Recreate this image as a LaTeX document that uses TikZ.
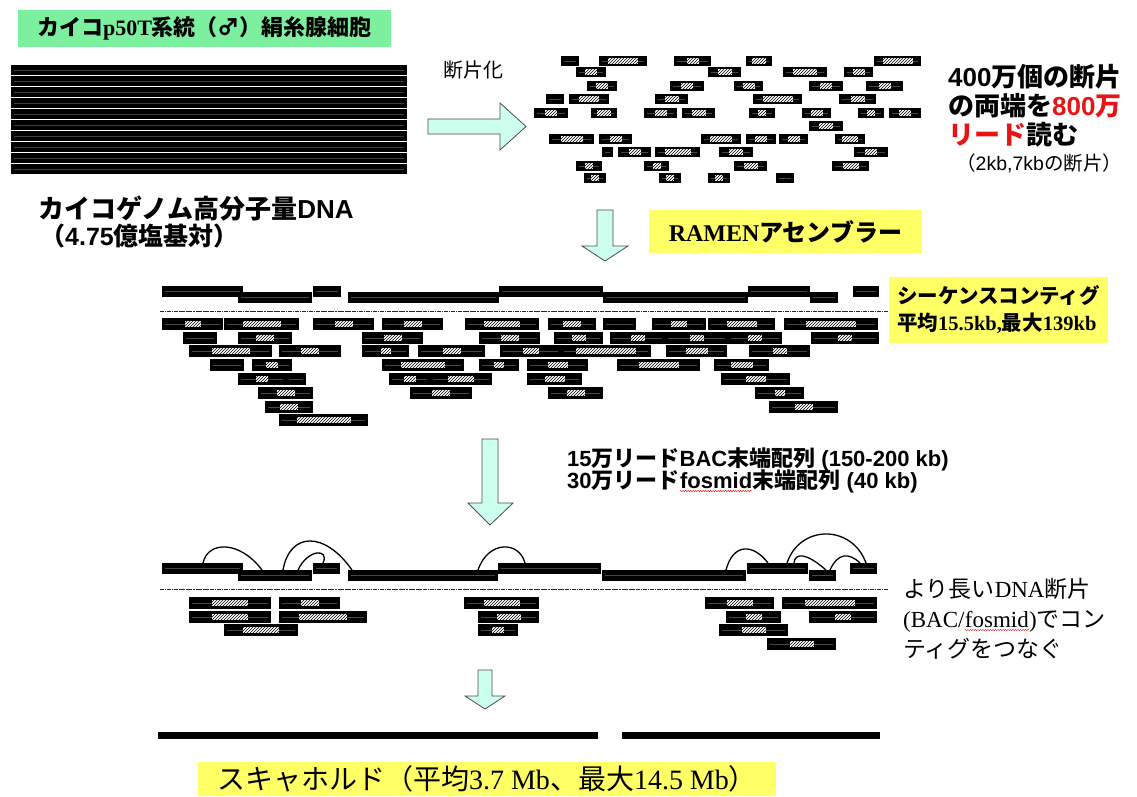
\documentclass[tikz,border=0pt]{standalone}
\usepackage{fontspec}
\setmainfont{Noto Sans CJK JP}
\newfontfamily\tms{Liberation Serif}
\newfontfamily\ars{Liberation Sans}
\usetikzlibrary{patterns,decorations.pathmorphing}
\definecolor{lgreen}{RGB}{125,240,160}
\definecolor{lyellow}{RGB}{255,255,102}
\definecolor{acyan}{RGB}{204,255,238}
\definecolor{ared}{RGB}{230,20,20}
\newcommand\fs[2]{\fontsize{#1}{#2}\selectfont}
\newcommand\fr[5]{%
  \fill[black] (#1,#3) rectangle (#2,#3+#4);
  \draw[black!72,line width=0.3pt] (#1+3,#3+#4/2) -- (#2-3,#3+#4/2);
  \ifnum#5>0
    \fill[white] ({(#1+#2)/2-#5/2},{#3+#4/2-3}) rectangle ({(#1+#2)/2+#5/2},{#3+#4/2+3});
    \fill[pattern=north east lines] ({(#1+#2)/2-#5/2},{#3+#4/2-3}) rectangle ({(#1+#2)/2+#5/2},{#3+#4/2+3});
  \fi}
\begin{document}
\begin{tikzpicture}[x=1pt,y=-1pt,
  txt/.style={inner sep=0pt, anchor=base west},
  arr/.style={fill=acyan, draw=black!70, line width=0.8pt, line join=miter},
  arc/.style={line width=1.3pt},
  dots/.style={line width=1pt, black!85, dash pattern=on 4pt off 0.8pt on 1.5pt off 0.8pt}]
\useasboundingbox (0,0) rectangle (1137,796);
\fill[white] (0,0) rectangle (1137,796);

% ---- source label and genomic DNA
\node[fill=lgreen, minimum width=373pt, minimum height=37pt, inner sep=0, font=\bfseries\fs{22}{25}] (src) at (204.5,28.5) {カイコ{\tms p50T}系統（♂）絹糸腺細胞};
\foreach \i in {0,...,9} {\fill (11,65+11*\i) rectangle (407,65+11*\i+10);
  \draw[black!75,line width=0.3pt] (14,65+11*\i+5) -- (404,65+11*\i+5);}
\node[txt, font=\bfseries\fs{26}{30}] (dna1) at (38,218) {カイコゲノム高分子量{\ars DNA}};
\node[txt, font=\bfseries\fs{25}{30}] (dna2) at (40,245) {（{\ars 4.75}億塩基対）};

% ---- fragmentation
\node[txt, font=\fs{20}{24}] (frag) at (443,77) {断片化};
\draw[arr] (428,119) -- (500,119) -- (500,103) -- (526,126.5) -- (500,150) -- (500,134) -- (428,134) -- cycle;

\foreach \a/\b/\w in {561/579/0,599/647/30,674/711/12,746/772/14,874/921/30} {\fr{\a}{\b}{56}{10}{\w}}
\foreach \a/\b/\w in {576/606/12,708/741/14,783/827/24,844/873/12} {\fr{\a}{\b}{67}{10}{\w}}
\foreach \a/\b/\w in {587/617/12,670/704/12,734/763/12,809/843/12,866/903/12} {\fr{\a}{\b}{81}{10}{\w}}
\foreach \a/\b/\w in {546/564/0,569/609/20,655/688/14,753/802/30,839/876/14} {\fr{\a}{\b}{94}{10}{\w}}
\foreach \a/\b/\w in {534/568/12,591/617/14,644/677/12,682/715/14,749/775/8,802/831/12,858/884/8,889/921/12} {\fr{\a}{\b}{108}{10}{\w}}
\foreach \a/\b/\w in {809/843/14} {\fr{\a}{\b}{121}{10}{\w}}
\foreach \a/\b/\w in {549/594/22,599/632/12,701/741/22,746/776/12,779/808/12,835/865/16} {\fr{\a}{\b}{134}{10}{\w}}
\foreach \a/\b/\w in {602/613/0,618/651/12,655/700/26,719/753/14,854/888/12} {\fr{\a}{\b}{147}{10}{\w}}
\foreach \a/\b/\w in {576/602/8,644/669/8,734/767/14,832/869/16} {\fr{\a}{\b}{161}{10}{\w}}
\foreach \a/\b/\w in {584/606/8,659/681/8,708/730/8,776/794/0} {\fr{\a}{\b}{173}{10}{\w}}

\node[txt, font=\bfseries\fs{26}{29}] (r1) at (948,86) {{\ars 400}万個の断片};
\node[txt, font=\bfseries\fs{26}{29}] (r2) at (948,115) {の両端を\textcolor{ared}{{\ars 800}万}};
\node[txt, font=\bfseries\fs{26}{29}] (r3) at (948,144) {\textcolor{ared}{リード}読む};
\node[txt, font=\fs{19.5}{22}] (r4) at (956,170) {（{\ars 2kb,7kb}の断片）};

% ---- assembler
\draw[arr] (597,210) -- (613,210) -- (613,246) -- (628,246) -- (605,261) -- (582,246) -- (597,246) -- cycle;
\node[fill=lyellow, minimum width=273pt, minimum height=43pt, inner sep=0, font=\bfseries\fs{24}{28}] (ramen) at (785.5,231.5) {{\tms RAMEN}アセンブラー};

% ---- contigs
\foreach \a/\b in {162/243,313/341,499/603,748/810,853/879} {\fr{\a}{\b}{286}{11}{0}}
\foreach \a/\b in {238/312,348/499,603/748,810/838} {\fr{\a}{\b}{292}{11}{0}}
\draw[dots] (160,311) -- (888,311);
\foreach \a/\b/\w in {162/223/16,224/299/38,313/374/18,382/443/18,465/539/36,548/596/18,603/636/0,652/706/16,708/775/30,784/878/50} {\fr{\a}{\b}{318}{12}{\w}}
\foreach \a/\b/\w in {183/217/0,238/292/18,362/423/18,479/540/18,554/603/14,610/665/14,665/728/14,728/782/14,811/879/14} {\fr{\a}{\b}{332}{12}{\w}}
\foreach \a/\b/\w in {189/272/38,279/341/18,362/409/10,418/485/18,500/561/16,561/651/60,666/727/22,749/810/14} {\fr{\a}{\b}{345}{12}{\w}}
\foreach \a/\b/\w in {210/244/0,252/292/12,382/464/44,479/519/10,527/588/20,617/700/40,714/769/22} {\fr{\a}{\b}{359}{12}{\w}}
\foreach \a/\b/\w in {238/286/12,286/306/0,389/430/12,430/492/26,527/582/20,721/790/20} {\fr{\a}{\b}{373}{12}{\w}}
\foreach \a/\b/\w in {258/313/18,410/472/18,548/603/18,755/804/10} {\fr{\a}{\b}{387}{12}{\w}}
\foreach \a/\b/\w in {265/313/18,769/838/18} {\fr{\a}{\b}{401}{12}{\w}}
\foreach \a/\b/\w in {279/368/54} {\fr{\a}{\b}{414}{12}{\w}}
\node[fill=lyellow, minimum width=219pt, minimum height=66pt, align=left, inner sep=0, font=\bfseries\fs{20.5}{27}] (ctg) at (998.5,310) {シーケンスコンティグ\\平均{\tms 15.5kb,}最大{\tms 139kb}};

% ---- BAC / fosmid ends
\draw[arr] (482,439) -- (498,439) -- (498,503) -- (513,503) -- (490,525) -- (468,503) -- (482,503) -- cycle;
\node[txt, font=\bfseries\fs{22}{25}] (bac) at (567,466) {{\ars 15}万リード{\ars BAC}末端配列{\ars\ (150-200 kb)}};
\node[txt, font=\bfseries\fs{22}{25}] (fos1) at (567,488) {{\ars 30}万リード};
\node[txt, font=\bfseries\fs{22}{25}\ars] (fos2) at (fos1.base east) {fosmid};
\node[txt, font=\bfseries\fs{22}{25}] (fos3) at (fos2.base east) {末端配列{\ars\ (40 kb)}};
\draw[ared, line width=0.4pt, decorate, decoration={snake, amplitude=0.7pt, segment length=2.5pt}] ([yshift=-3pt]fos2.base west) -- ([yshift=-3pt]fos2.base east);

% ---- scaffolding
\foreach \a/\b in {162/243,313/340,498/601,747/808,850/877} {\fr{\a}{\b}{563}{11}{0}}
\foreach \a/\b in {238/312,348/498,602/746,809/836} {\fr{\a}{\b}{570}{11}{0}}
\draw[arc] (203,563) .. controls (208,540.5) and (240,540.5) .. (262,570);
\draw[arc] (283,570) .. controls (290,531.3) and (325,531.3) .. (352,570);
\draw[arc] (298,570) .. controls (308,548.5) and (330,548.5) .. (323,563);
\draw[arc] (478,570) .. controls (488,540.5) and (519,540.5) .. (525,563);
\draw[arc] (726,570) .. controls (733,543.2) and (753,543.2) .. (768,563);
\draw[arc] (787,563) .. controls (800,524.3) and (852,524.3) .. (866,563);
\draw[arc] (794,563) .. controls (795,552.5) and (806,552.5) .. (826,570);
\draw[arc] (830,570) .. controls (838,552.5) and (849,552.5) .. (860,563);
\draw[dots] (160,589) -- (888,589);
\foreach \a/\b/\w in {189/271/36,279/340/18,464/539/36,705/774/26,782/877/50} {\fr{\a}{\b}{597}{12}{\w}}
\foreach \a/\b/\w in {189/271/36,279/367/48,478/539/24,726/781/16,809/877/16} {\fr{\a}{\b}{611}{12}{\w}}
\foreach \a/\b/\w in {224/298/36,478/518/12,719/788/24} {\fr{\a}{\b}{624}{12}{\w}}
\foreach \a/\b/\w in {767/836/24} {\fr{\a}{\b}{638}{12}{\w}}

\node[txt, font=\fs{23}{30}] (l1) at (903,597) {より長い{\tms DNA}断片};
\node[txt, font=\fs{23}{30}\tms] (l2a) at (903,627) {(BAC/};
\node[txt, font=\fs{23}{30}\tms] (l2b) at (l2a.base east) {fosmid};
\node[txt, font=\fs{23}{30}] (l2c) at (l2b.base east) {{\tms )}でコン};
\node[txt, font=\fs{23}{30}] (l3) at (903,657) {ティグをつなぐ};
\draw[ared, line width=0.4pt, decorate, decoration={snake, amplitude=0.7pt, segment length=2.5pt}] ([yshift=-3pt]l2b.base west) -- ([yshift=-3pt]l2b.base east);

% ---- scaffolds
\draw[arr] (478,670) -- (492,670) -- (492,696) -- (505,696) -- (485,709) -- (465,696) -- (478,696) -- cycle;
\fill (158,732) rectangle (598,739);
\fill (622,732) rectangle (880,739);
\node[fill=lyellow, minimum width=578pt, minimum height=34pt, inner sep=0, font=\fs{28}{32}] (scaf) at (487,779) {スキャホルド（平均{\tms 3.7 Mb}、最大{\tms 14.5 Mb}）};
\end{tikzpicture}
\end{document}
